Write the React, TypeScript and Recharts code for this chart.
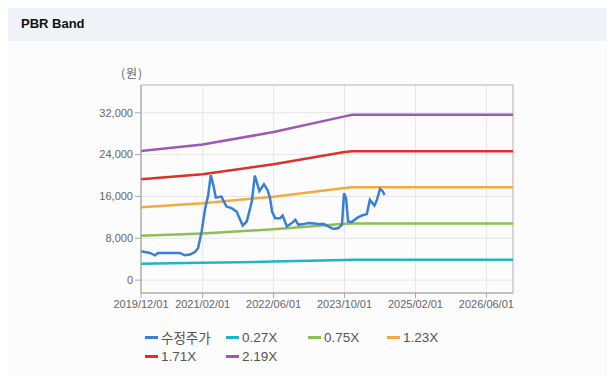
import React from "react";
import { LineChart, Line, XAxis, YAxis, CartesianGrid, ReferenceArea } from "recharts";

// x values are months counted from 2019/12
const xTicks = [1.83, 14, 28, 42, 56, 70];
const xTickLabels = ["2019/12/01", "2021/02/01", "2022/06/01", "2023/10/01", "2025/02/01", "2026/06/01"];
const xDomain = [1.83, 75.25];
const yTicks = [0, 8000, 16000, 24000, 32000];
const yDomain = [-2460, 37300];

const priceX = [1.83, 3.6, 4.6, 5.2, 9.5, 10.5, 11.5, 12.5, 13.1, 13.8, 14.5, 15.1, 15.6, 16.1, 16.6, 17.7, 18.7, 19.7, 20.7, 21.9, 22.7, 23.7, 24.3, 25.2, 26.1, 26.8, 27.3, 27.7, 28.3, 29.3, 29.8, 30.6, 31.6, 32.3, 32.9, 33.9, 34.9, 36.5, 37.9, 38.8, 39.8, 40.8, 41.5, 41.9, 42.3, 42.7, 43.4, 44.4, 45.4, 46.4, 47.0, 47.9, 48.4, 49.0, 49.5, 49.9];
const priceY = [5510, 5200, 4750, 5200, 5200, 4750, 4880, 5390, 6150, 9310, 13760, 16280, 20080, 18180, 15770, 15960, 14060, 13760, 13110, 10450, 11210, 15010, 20000, 17000, 18300, 17230, 15660, 13110, 11850, 11850, 12350, 10260, 10900, 11530, 10580, 10710, 10900, 10770, 10710, 10260, 9770, 9960, 10580, 16610, 15660, 11210, 11100, 11850, 12350, 12620, 15330, 14250, 15330, 17420, 17040, 16280];

const bandX = [1.83, 14, 28, 42, 43.5, 75.25];
const band027 = [3150, 3300, 3550, 3850, 3890, 3890];
const band075 = [8470, 8930, 9730, 10800, 10830, 10830];
const band123 = [13950, 14700, 15950, 17620, 17750, 17750];
const band171 = [19270, 20220, 22170, 24510, 24650, 24650];
const band219 = [24700, 25920, 28310, 31300, 31620, 31620];

const seriesNames = ["수정주가", "0.27X", "0.75X", "1.23X", "1.71X", "2.19X"];
const seriesColors = ["#3a7fd5", "#1fb5c8", "#8dbf52", "#f4aa3e", "#d8322b", "#9b58b5"];

const toPoints = (xs: number[], ys: number[]) => xs.map((x, i) => ({ x, v: ys[i] }));

const seriesData = [
  toPoints(priceX, priceY),
  toPoints(bandX, band027),
  toPoints(bandX, band075),
  toPoints(bandX, band123),
  toPoints(bandX, band171),
  toPoints(bandX, band219),
];

const tickStyle = { fontSize: 11, fill: "#666", fontFamily: "Arial, 'Liberation Sans', sans-serif" };

export default function App() {
  const drawOrder = [5, 4, 3, 2, 1, 0];
  return (
    <div style={{ position: "relative", width: 615, height: 384, margin: -8, background: "#fff", overflow: "hidden" }}>
      <div style={{ position: "absolute", left: 8, top: 5, width: 607, height: 1, background: "#d6d9de" }} />
      <div
        style={{
          position: "absolute",
          left: 8,
          top: 6,
          width: 607,
          height: 35,
          background: "#eff2f7",
          fontFamily: "Arial, 'Liberation Sans', sans-serif",
          fontWeight: "bold",
          fontSize: 13,
          color: "#111",
          lineHeight: "35px",
          paddingLeft: 13,
          boxSizing: "border-box",
        }}
      >
        PBR Band
      </div>
      <div style={{ position: "absolute", left: 8, top: 41, width: 607, height: 337, background: "#fcfcfd" }} />
      <div style={{ position: "absolute", left: 8, top: 378, width: 607, height: 1, background: "#d6d9de" }} />
      <div
        style={{
          position: "absolute",
          left: 121,
          top: 64,
          fontSize: 12,
          color: "#666",
          fontFamily: "'Noto Sans CJK KR', sans-serif",
          letterSpacing: 1,
        }}
      >
        (원)
      </div>
      <div style={{ position: "absolute", left: 0, top: 0 }}>
        <LineChart
          width={615}
          height={384}
          margin={{ top: 85, right: 102, bottom: 61, left: 81 }}
        >
          <CartesianGrid stroke="#e6e6e6" strokeWidth={1} />
          <XAxis
            dataKey="x"
            type="number"
            domain={xDomain}
            ticks={xTicks}
            allowDataOverflow
            height={30}
            tick={tickStyle}
            tickSize={5}
            tickLine={{ stroke: "#aaa" }}
            axisLine={{ stroke: "#aaa" }}
            tickFormatter={(v: number) => xTickLabels[xTicks.indexOf(v)] ?? ""}
            interval={0}
          />
          <YAxis
            type="number"
            domain={yDomain}
            ticks={yTicks}
            allowDataOverflow
            width={60}
            tick={tickStyle}
            tickSize={6}
            tickLine={{ stroke: "#aaa" }}
            axisLine={{ stroke: "#aaa" }}
            tickFormatter={(v: number) => v.toLocaleString("en-US")}
            interval={0}
          />
          <ReferenceArea
            x1={xDomain[0]}
            x2={xDomain[1]}
            y1={yDomain[0]}
            y2={yDomain[1]}
            fill="none"
            stroke="#bbb"
            strokeWidth={1}
            ifOverflow="visible"
          />
          {drawOrder.map((i) => (
            <Line
              key={seriesNames[i]}
              data={seriesData[i]}
              dataKey="v"
              name={seriesNames[i]}
              type="linear"
              stroke={seriesColors[i]}
              strokeWidth={2.5}
              dot={false}
              activeDot={false}
              isAnimationActive={false}
            />
          ))}
        </LineChart>
      </div>
      {seriesNames.map((name, i) => {
        const col = i < 4 ? i : i - 4;
        const row = i < 4 ? 0 : 1;
        const lefts = [145, 226, 308, 387];
        return (
          <div
            key={name}
            style={{
              position: "absolute",
              left: lefts[col],
              top: row === 0 ? 328 : 347,
              height: 18,
              display: "flex",
              alignItems: "center",
              fontSize: 13.5,
              color: "#555",
              fontFamily: "Arial, 'Liberation Sans', 'Noto Sans CJK KR', sans-serif",
              whiteSpace: "nowrap",
            }}
          >
            <span style={{ display: "inline-block", width: 13, height: 3, background: seriesColors[i], marginRight: 3 }} />
            <span>{name}</span>
          </div>
        );
      })}
    </div>
  );
}
